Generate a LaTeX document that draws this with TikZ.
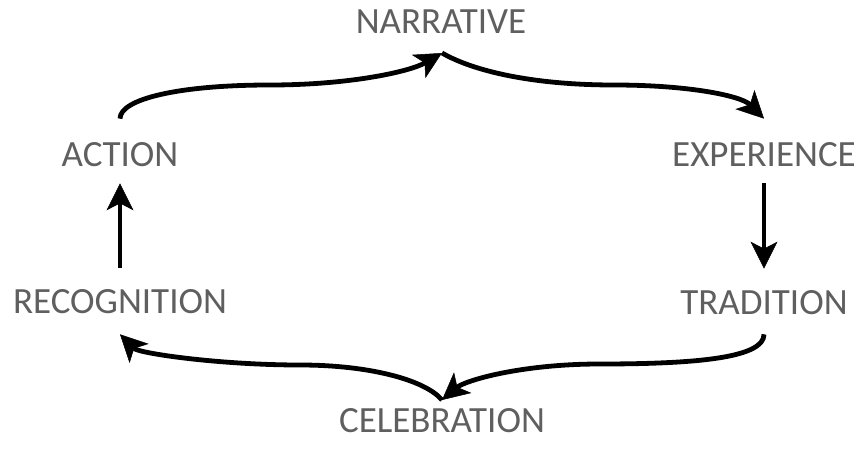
\documentclass[tikz,border=0pt]{standalone}
\usepackage{fontspec}
\setmainfont{Carlito}
\usetikzlibrary{arrows.meta}
\definecolor{lblgray}{HTML}{5F5F5F}

\begin{document}
\begin{tikzpicture}[x=1pt,y=-1pt,>={Stealth[length=27pt,width=27pt,inset=7pt,line width=0.5pt]}]
  \tikzset{
    lbl/.style={text=lblgray,inner sep=0pt,font=\fontsize{37}{44}\selectfont},
    arr/.style={line width=4.8pt,->,black}
  }
  \useasboundingbox (0,0) rectangle (859,449);

  % =====================================================================
  % 1. LABELS
  % =====================================================================
  \node[lbl] (narrative)   at (441,22)  {NARRATIVE};
  \node[lbl] (action)      at (120,155) {ACTION};
  \node[lbl] (experience)  at (764,155) {EXPERIENCE};
  \node[lbl] (recognition) at (120,302) {RECOGNITION};
  \node[lbl] (tradition)   at (764,303) {TRADITION};
  \node[lbl] (celebration) at (442,421) {CELEBRATION};

  % brace tips
  \coordinate (toptip) at (442,53);
  \coordinate (bottip) at (442,400);

  % =====================================================================
  % 2. CYCLE ARROWS
  % =====================================================================

  % upper brace
  \draw[arr] ([yshift=24pt]action.north)
        to[out=90,in=180,out distance=20pt,in distance=90pt] (270,85)
        to[out=0,in=210,out distance=80pt,in distance=37pt] (toptip);
  \draw[arr] (toptip)
        to[out=-30,in=180,out distance=37pt,in distance=80pt] (614,85)
        to[out=0,in=135,out distance=76pt,in distance=32pt] ([yshift=24pt]experience.north);

  % right side
  \draw[arr,shorten <=16pt,shorten >=22pt] (experience.south) -- (tradition.north);

  % lower brace
  \draw[arr] ([yshift=-19pt]tradition.south)
        to[out=-90,in=0,out distance=23pt,in distance=100pt] (600,364)
        to[out=180,in=40,out distance=80pt,in distance=30pt] (bottip);
  \draw[arr] (bottip)
        to[out=130,in=0,out distance=26pt,in distance=70pt] (300,365)
        to[out=180,in=-45,out distance=80pt,in distance=27pt] ([yshift=-20pt]recognition.south);

  % left side
  \draw[arr,shorten <=22pt,shorten >=16pt] (recognition.north) -- (action.south);

\end{tikzpicture}
\end{document}
